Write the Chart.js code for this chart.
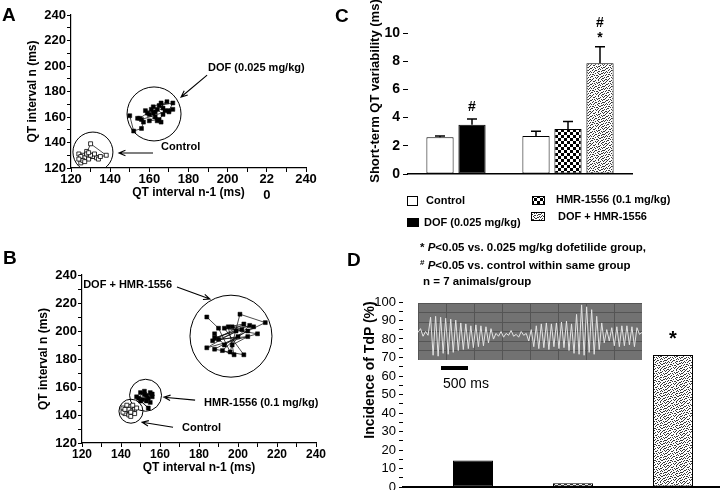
<!DOCTYPE html>
<html>
<head>
<meta charset="utf-8">
<script src="https://cdn.jsdelivr.net/npm/chart.js@4.4.0/dist/chart.umd.min.js"></script>
<style>
  html, body { margin: 0; padding: 0; background: #fff; }
  #fig { position: relative; width: 720px; height: 490px; overflow: hidden;
         font-family: "Liberation Sans", Arial, sans-serif; color: #000; }
  #fig canvas { position: absolute; }
  .t { position: absolute; white-space: nowrap; font-weight: bold; line-height: 1; }
  .letter { font-size: 19px; }
  .rot { transform: translate(-50%, -50%) rotate(-90deg); }
  .note { font-size: 11.5px; }
  .sup { font-size: 8px; position: relative; top: -4px; }
</style>
</head>
<body>
<div id="fig">
  <canvas id="chart-a" width="330" height="210" style="left:0px;top:0px"></canvas>
  <canvas id="chart-b" width="330" height="270" style="left:0px;top:220px"></canvas>
  <canvas id="chart-c" width="420" height="300" style="left:300px;top:0px"></canvas>
  <canvas id="chart-d" width="390" height="210" style="left:330px;top:290px"></canvas>
  <canvas id="chart-ecg" width="224" height="57" style="left:418px;top:303px"></canvas>

  <div class="t letter" style="left:2px;top:5px">A</div>
  <div class="t letter" style="left:3px;top:248px">B</div>
  <div class="t letter" style="left:335px;top:6px">C</div>
  <div class="t letter" style="left:347px;top:250px">D</div>

  <div class="t rot" style="left:374px;top:91px;font-size:13px">Short-term QT variability (ms)</div>
  <div class="t rot" style="left:369px;top:370px;font-size:14px">Incidence of TdP (%)</div>

  <div class="t note" style="left:420px;top:242px">* <i>P</i>&lt;0.05 vs. 0.025 mg/kg dofetilide group,</div>
  <div class="t note" style="left:420px;top:260px"><span class="sup">#</span> <i>P</i>&lt;0.05 vs. control within same group</div>
  <div class="t note" style="left:423px;top:276px">n = 7 animals/group</div>

  <div style="position:absolute;left:441px;top:366px;width:27px;height:4px;background:#000"></div>
  <div class="t" style="left:443px;top:376px;font-size:14px;font-weight:normal">500 ms</div>
</div>

<script>
// ---- Panel A: Poincare plots, QT(n-1) vs QT(n) ----
const aCtrlX = [124, 126, 128, 125, 127, 130, 138, 133, 129, 126, 131, 134, 128, 125, 127, 130, 132, 129, 135, 124];
const aCtrlY = [131, 130, 133, 124, 128, 139, 130, 128, 127, 126, 129, 127, 131, 129, 125, 130, 131, 132, 129, 127];
const aDofX = [150, 152, 156, 157, 155, 159, 161, 163, 160, 165, 167, 164, 162, 166, 168, 170, 172, 165, 169, 163, 158, 160, 164, 166, 162, 167, 170, 172, 156, 154];
const aDofY = [161, 149, 151, 156, 159, 163, 166, 160, 157, 158, 162, 166, 168, 171, 165, 165, 171, 169, 172, 164, 165, 162, 157, 156, 163, 167, 164, 166, 158, 159];
const aRingX = [131.2, 162.4];
const aRingY = [132.5, 162.4];

// ---- Panel B ----
const bCtrlX = [141, 143, 145, 147, 142, 144, 146, 148, 143, 145, 141, 147, 144, 146, 142, 145];
const bCtrlY = [145, 143, 146, 144, 141, 140, 142, 145, 147, 139, 142, 141, 144, 147, 144, 142];
const bHmrX = [150, 152, 153, 155, 156, 151, 154, 155, 152, 149, 153, 156, 150, 154, 148];
const bHmrY = [156, 155, 150, 156, 153, 151, 152, 149, 157, 152, 154, 155, 150, 145, 153];
const bComboX = [184, 190, 196, 201, 214, 205, 188, 203, 193, 210, 184, 199, 188, 206, 192, 198, 195, 203, 187, 200, 197, 205, 190, 202, 197, 208, 193, 188];
const bComboY = [210, 202, 185, 212, 206, 200, 187, 183, 202, 198, 188, 200, 195, 204, 186, 183, 203, 205, 193, 196, 190, 196, 194, 201, 203, 203, 190, 198];
const bRingX = [196.4, 152.6, 145.1];
const bRingY = [196.3, 154.1, 142.7];

// ---- Panel C: short-term QT variability (ms) ----
const stvLabels = ["Control", "DOF (0.025 mg/kg)", "Control", "HMR-1556 (0.1 mg/kg)", "DOF + HMR-1556"];
const stvSlots = [1, 2, 4, 5, 6];
const stvMean = [2.6, 3.5, 2.7, 3.2, 7.85];
const stvSem = [0.1, 0.4, 0.33, 0.52, 1.18];
const stvMarks = [[], ["#"], [], [], ["*", "#"]];

// ---- Panel D: incidence of TdP (%) ----
const tdpLabels = ["DOF (0.025 mg/kg)", "HMR-1556 (0.1 mg/kg)", "DOF + HMR-1556"];
const tdpSlots = [1, 2, 3];
const tdpValues = [14.3, 2, 71.4];
const tdpMarks = ["", "", "*"];

// ECG trace in the inset (arbitrary units)
const ecgTrace = [
  -0.1, 0.3, -0.5, 0.0, -0.4,
  1.5, -2.5, 1.6, -2.6, 1.5, -2.3, 1.4, -2.4, 1.3, -2.2, 1.2, -2.0, 0.9, -1.9, 0.8, -1.8,
  0.6, -1.7, 0.7, -1.6, 0.6, -1.5, 0.5, -1.2, 0.3,
  -0.8, -0.2, -0.5, 0.0, -0.6, -0.2, -0.4, 0.1, -0.5, -0.3, -0.6, 0.0, -0.4, -0.2, -1.0, 0.2,
  -1.6, 0.6, -1.8, 0.8, -1.7, 0.9, -1.9, 0.8, -1.6, 0.9, -1.8, 1.0, -1.7, 1.1, -2.0, 0.8,
  -2.3, 1.8, -2.4, 2.8, -2.5, 2.6, -2.2, 2.3, -2.4, 1.6, -1.9, 0.9,
  -1.2, 0.2, -1.0, 0.4, -1.5, 0.5, -1.6, 0.6, -1.5, 0.6, -1.4, 0.5, -1.6, 0.4, -0.3, -0.1
];

const FONT = '"Liberation Sans", Arial, sans-serif';
Chart.defaults.font.family = FONT;
Chart.defaults.color = "#000";

const pts = (xs, ys) => xs.map((x, i) => ({ x: x, y: ys[i] }));

function makePattern(bits, fg, bg, cell) {
  const c = document.createElement("canvas");
  c.width = bits[0].length * cell;
  c.height = bits.length * cell;
  const g = c.getContext("2d");
  g.fillStyle = bg;
  g.fillRect(0, 0, c.width, c.height);
  g.fillStyle = fg;
  bits.forEach((row, j) => {
    [...row].forEach((b, i) => {
      if (b === "1") g.fillRect(i * cell, j * cell, cell, cell);
    });
  });
  return g.createPattern(c, "repeat");
}

const checker = makePattern(["10", "01"], "#000", "#fff", 3);
const stipple = makePattern([
  "1001000100100010",
  "0010011000001001",
  "0100000010110000",
  "1000101001000101",
  "0011000100010010",
  "0100010000101000",
  "1000100110000011",
  "0010001000110100",
  "0101010001000001",
  "1000000100100110",
  "0010110000011000",
  "0100001011000001",
  "0001100000100110",
  "1010000101001000",
  "0000010010010011",
  "0110100000100100"
], "#3a3a3a", "#fff", 1);

function drawArrow(ctx, x0, y0, x1, y1) {
  const a = Math.atan2(y1 - y0, x1 - x0);
  ctx.beginPath();
  ctx.moveTo(x0, y0);
  ctx.lineTo(x1, y1);
  ctx.moveTo(x1 - 7 * Math.cos(a - 0.4), y1 - 7 * Math.sin(a - 0.4));
  ctx.lineTo(x1, y1);
  ctx.lineTo(x1 - 7 * Math.cos(a + 0.4), y1 - 7 * Math.sin(a + 0.4));
  ctx.stroke();
}

// labels + arrows placed in data coordinates
const notesPlugin = {
  id: "notes",
  afterDatasetsDraw(chart, args, opts) {
    const { ctx } = chart;
    const x = chart.scales.x, y = chart.scales.y;
    ctx.save();
    ctx.fillStyle = "#000";
    ctx.strokeStyle = "#000";
    ctx.lineWidth = 1.1;
    ctx.font = "bold 11px " + FONT;
    ctx.textBaseline = "middle";
    (opts.items || []).forEach((it) => {
      ctx.fillText(it.text, x.getPixelForValue(it.at[0]), y.getPixelForValue(it.at[1]));
      drawArrow(ctx,
        x.getPixelForValue(it.from[0]), y.getPixelForValue(it.from[1]),
        x.getPixelForValue(it.to[0]), y.getPixelForValue(it.to[1]));
    });
    ctx.restore();
  }
};

function poincareAxes(xFont, xTitlePad, yTitlePad, xHeight, yWidth, xCallback) {
  return {
    x: {
      type: "linear", min: 120, max: 240,
      ticks: { stepSize: 10, autoSkip: false, maxRotation: 0, padding: 0,
               font: { size: xFont, weight: "bold" }, callback: xCallback },
      grid: { drawOnChartArea: false, tickLength: 4, tickColor: "#000" },
      border: { color: "#000", width: 1.2 },
      title: { display: true, text: "QT interval n-1 (ms)", font: { size: 12, weight: "bold" },
               padding: { top: 0, bottom: xTitlePad } },
      afterFit: (s) => { s.height = xHeight; }
    },
    y: {
      type: "linear", min: 120, max: 240,
      ticks: { stepSize: 10, autoSkip: false, padding: 1, font: { size: 13, weight: "bold" },
               callback: (v) => (v % 20 === 0 ? v : "") },
      grid: { drawOnChartArea: false, tickLength: 4, tickColor: "#000" },
      border: { color: "#000", width: 1.2 },
      title: { display: true, text: "QT interval n (ms)", font: { size: 12, weight: "bold" },
               padding: { top: yTitlePad, bottom: 0 } },
      afterFit: (s) => { s.width = yWidth; }
    }
  };
}

function openSquares(data) {
  return { data: data, showLine: true, borderColor: "#000", borderWidth: 0.7,
           pointStyle: "rect", pointRadius: 2.8, pointBackgroundColor: "#fff",
           pointBorderColor: "#000", pointBorderWidth: 0.8 };
}
function filledSquares(data) {
  return { data: data, showLine: true, borderColor: "#000", borderWidth: 0.7,
           pointStyle: "rect", pointRadius: 2.8, pointBackgroundColor: "#000",
           pointBorderColor: "#000", pointBorderWidth: 0.5 };
}
function rings(xs, ys, radii) {
  return { data: pts(xs, ys), showLine: false, pointStyle: "circle",
           pointRadius: (c) => radii[c.dataIndex], pointBackgroundColor: "rgba(0,0,0,0)",
           pointBorderColor: "#000", pointBorderWidth: 1 };
}

// ---------- A ----------
new Chart(document.getElementById("chart-a"), {
  type: "scatter",
  data: {
    datasets: [
      filledSquares(pts(aDofX, aDofY)),
      openSquares(pts(aCtrlX, aCtrlY)),
      rings(aRingX, aRingY, [20, 27])
    ]
  },
  options: {
    responsive: false, animation: false, events: [],
    layout: { autoPadding: false, padding: { left: 0, right: 24, top: 15, bottom: 10 } },
    plugins: {
      legend: { display: false }, tooltip: { enabled: false },
      notes: { items: [
        { text: "DOF (0.025 mg/kg)", at: [190, 198.4], from: [189.5, 192.9], to: [176.2, 175.7] },
        { text: "Control", at: [166, 136.5], from: [161.9, 131.8], to: [144.5, 131.8] }
      ] }
    },
    scales: poincareAxes(13, 0, 25, 32, 71,
      (v) => (v === 220 ? ["22", "0"] : (v % 20 === 0 ? v : "")))
  },
  plugins: [notesPlugin]
});

// ---------- B ----------
new Chart(document.getElementById("chart-b"), {
  type: "scatter",
  data: {
    datasets: [
      filledSquares(pts(bComboX, bComboY)),
      filledSquares(pts(bHmrX, bHmrY)),
      openSquares(pts(bCtrlX, bCtrlY)),
      rings(bRingX, bRingY, [41, 16, 12])
    ]
  },
  options: {
    responsive: false, animation: false, events: [],
    layout: { autoPadding: false, padding: { left: 0, right: 14, top: 55, bottom: 15 } },
    plugins: {
      legend: { display: false }, tooltip: { enabled: false },
      notes: { items: [
        { text: "DOF + HMR-1556", at: [120.6, 232.8], from: [168.7, 231.4], to: [185.6, 222.8] },
        { text: "HMR-1556 (0.1 mg/kg)", at: [182.6, 148.4], from: [178, 150.6], to: [162, 152.7] },
        { text: "Control", at: [171.3, 130.5], from: [166.7, 131.2], to: [150.8, 134.8] }
      ] }
    },
    scales: poincareAxes(12, 0, 36, 32, 82, (v) => (v % 20 === 0 ? v : ""))
  },
  plugins: [notesPlugin]
});

// ---------- C ----------
const glyphDrop = { "#": 5, "*": 8 };
const stvPlugin = {
  id: "stv",
  afterDatasetsDraw(chart) {
    const { ctx } = chart;
    const x = chart.scales.x, y = chart.scales.y;
    ctx.save();
    ctx.strokeStyle = "#000";
    ctx.fillStyle = "#000";
    ctx.lineWidth = 1.5;
    ctx.font = "bold 14px " + FONT;
    ctx.textAlign = "center";
    ctx.textBaseline = "alphabetic";
    stvSlots.forEach((s, i) => {
      const px = x.getPixelForValue(s);
      const y0 = y.getPixelForValue(stvMean[i]);
      const y1 = y.getPixelForValue(stvMean[i] + stvSem[i]);
      ctx.beginPath();
      ctx.moveTo(px, y0);
      ctx.lineTo(px, y1);
      ctx.moveTo(px - 5, y1);
      ctx.lineTo(px + 5, y1);
      ctx.stroke();
      stvMarks[i].forEach((m, k) => {
        ctx.fillText(m, px, y1 - 13 - 12 * k + glyphDrop[m]);
      });
    });
    // legend under the chart
    const legend = [
      { fill: "#fff", box: [107, 196, 11, 10], label: stvLabels[0], at: [126, 201] },
      { fill: "#000", box: [107, 218, 12, 9], label: stvLabels[1], at: [124, 223] },
      { fill: checker, box: [232, 196, 13, 9], label: stvLabels[3], at: [256, 200] },
      { fill: stipple, box: [231, 212, 14, 9], label: stvLabels[4], at: [258, 217] }
    ];
    ctx.font = "bold 11px " + FONT;
    ctx.textAlign = "left";
    ctx.textBaseline = "middle";
    ctx.lineWidth = 1;
    legend.forEach((l) => {
      ctx.fillStyle = l.fill;
      ctx.fillRect(l.box[0], l.box[1], l.box[2], l.box[3]);
      ctx.strokeRect(l.box[0] + 0.5, l.box[1] + 0.5, l.box[2] - 1, l.box[3] - 1);
      ctx.fillStyle = "#000";
      ctx.fillText(l.label, l.at[0], l.at[1]);
    });
    ctx.restore();
  }
};

new Chart(document.getElementById("chart-c"), {
  type: "bar",
  data: {
    datasets: [{
      data: pts(stvSlots, stvMean),
      backgroundColor: ["#fff", "#000", "#fff", checker, stipple],
      borderColor: "#000", borderWidth: 1, borderSkipped: false,
      barPercentage: 0.85, categoryPercentage: 1
    }]
  },
  options: {
    responsive: false, animation: false, events: [],
    layout: { autoPadding: false, padding: { left: 78, right: 88, top: 33, bottom: 126 } },
    plugins: { legend: { display: false }, tooltip: { enabled: false } },
    scales: {
      x: {
        type: "linear", min: 0, max: 7, offset: false,
        ticks: { display: false, stepSize: 1 },
        grid: { display: false, offset: false },
        border: { display: true, color: "#000", width: 1.5 },
        afterFit: (s) => { s.height = 0; }
      },
      y: {
        min: 0, max: 10,
        ticks: { stepSize: 2, padding: 3, font: { size: 14, weight: "bold" } },
        grid: { drawOnChartArea: false, tickLength: 5, tickColor: "#000" },
        border: { display: false },
        afterFit: (s) => { s.width = 30; }
      }
    }
  },
  plugins: [stvPlugin]
});

// ---------- D ----------
const tdpPlugin = {
  id: "tdp",
  afterDatasetsDraw(chart) {
    const { ctx } = chart;
    const x = chart.scales.x, y = chart.scales.y;
    ctx.save();
    ctx.fillStyle = "#000";
    ctx.font = "bold 20px " + FONT;
    ctx.textAlign = "center";
    ctx.textBaseline = "alphabetic";
    tdpSlots.forEach((s, i) => {
      if (!tdpMarks[i]) return;
      ctx.fillText(tdpMarks[i], x.getPixelForValue(s), y.getPixelForValue(tdpValues[i]) - 10);
    });
    ctx.restore();
  }
};

new Chart(document.getElementById("chart-d"), {
  type: "bar",
  data: {
    datasets: [{
      data: pts(tdpSlots, tdpValues),
      backgroundColor: ["#000", checker, stipple],
      borderColor: "#000", borderWidth: 1, borderSkipped: false,
      barPercentage: 0.4, categoryPercentage: 1
    }]
  },
  options: {
    responsive: false, animation: false, events: [],
    layout: { autoPadding: false, padding: { left: 33, right: 0, top: 12, bottom: 0 } },
    plugins: { legend: { display: false }, tooltip: { enabled: false } },
    scales: {
      x: {
        type: "linear", min: 0.3, max: 3.47, offset: false,
        ticks: { display: false, stepSize: 1, includeBounds: false },
        grid: { display: false, offset: false },
        border: { display: true, color: "#000", width: 2 },
        afterFit: (s) => { s.height = 13; }
      },
      y: {
        min: 0, max: 100,
        ticks: { stepSize: 5, autoSkip: false, padding: 3, font: { size: 13 },
                 callback: (v) => (v % 10 === 0 ? v : "") },
        grid: { drawOnChartArea: false, tickLength: 4, tickColor: "#000" },
        border: { display: false },
        afterFit: (s) => { s.width = 40; }
      }
    }
  },
  plugins: [tdpPlugin]
});

// ---------- ECG inset ----------
const inkBackground = {
  id: "inkBackground",
  beforeDraw(chart) {
    const { ctx, chartArea: a } = chart;
    ctx.save();
    ctx.fillStyle = "#727272";
    ctx.fillRect(a.left, a.top, a.right - a.left, a.bottom - a.top);
    ctx.restore();
  }
};

new Chart(document.getElementById("chart-ecg"), {
  type: "line",
  data: {
    labels: ecgTrace.map((_, i) => i),
    datasets: [{ data: ecgTrace, borderColor: "#e4e4e4", borderWidth: 1, pointRadius: 0, tension: 0 }]
  },
  options: {
    responsive: false, animation: false, events: [],
    layout: { autoPadding: false, padding: 0 },
    plugins: { legend: { display: false }, tooltip: { enabled: false } },
    scales: {
      x: {
        offset: false,
        ticks: { display: false }, grid: { display: false }, border: { display: false },
        afterFit: (s) => { s.height = 0; }
      },
      xt: {
        type: "linear", position: "bottom", min: -466, max: 3714,
        ticks: { display: false, stepSize: 500, includeBounds: false },
        grid: { color: "#555", drawTicks: false }, border: { display: false },
        afterFit: (s) => { s.height = 0; }
      },
      y: {
        min: -3, max: 3,
        ticks: { display: false, stepSize: 1 },
        grid: { color: "#555", drawTicks: false }, border: { display: false },
        afterFit: (s) => { s.width = 0; }
      }
    }
  },
  plugins: [inkBackground]
});
</script>
</body>
</html>
